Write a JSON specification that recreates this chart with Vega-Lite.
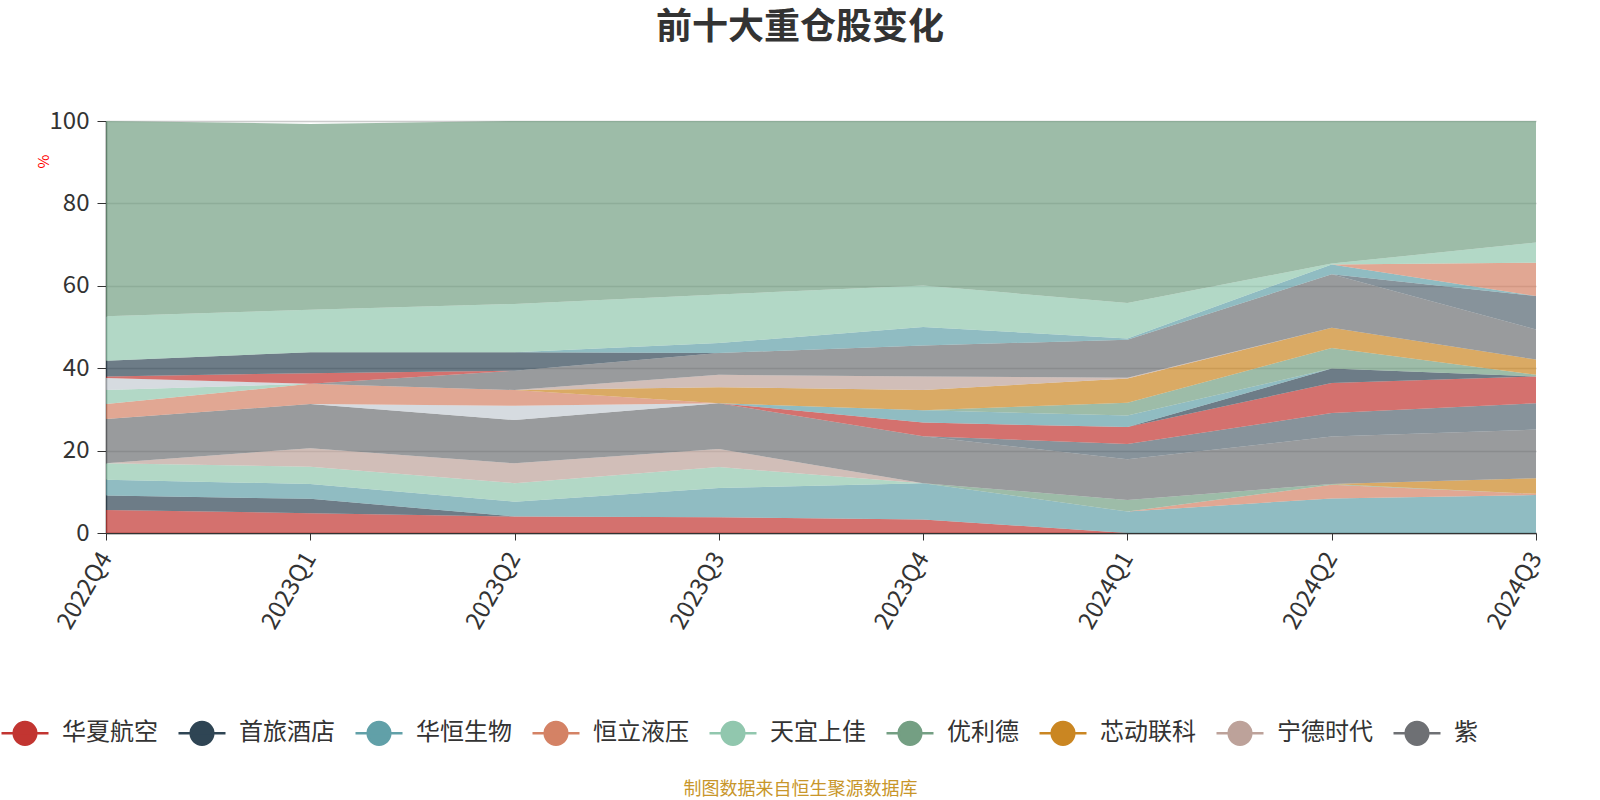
{
  "$schema": "https://vega.github.io/schema/vega-lite/v6.json",
  "width": 1430,
  "height": 412,
  "autosize": {"type": "none"},
  "padding": {"left": 106, "top": 121, "right": 64, "bottom": 267},
  "background": "white",
  "config": {"font": "Noto Sans CJK SC", "view": {"stroke": null}},
  "title": {"text": "前十大重仓股变化", "fontSize": 36, "fontWeight": "bold", "color": "#333333", "font": "Noto Sans CJK SC", "anchor": "middle", "dx": -21, "offset": 62},
  "data": {"values": [
    {"q":"2022Q4","s":"华夏航空","k":0,"v":5.6},{"q":"2023Q1","s":"华夏航空","k":0,"v":4.8},{"q":"2023Q2","s":"华夏航空","k":0,"v":4.0},{"q":"2023Q3","s":"华夏航空","k":0,"v":3.8},{"q":"2023Q4","s":"华夏航空","k":0,"v":3.3},{"q":"2024Q1","s":"华夏航空","k":0,"v":0},
    {"q":"2022Q4","s":"首旅酒店","k":1,"v":3.5},{"q":"2023Q1","s":"首旅酒店","k":1,"v":3.5},{"q":"2023Q2","s":"首旅酒店","k":1,"v":0},
    {"q":"2022Q4","s":"华恒生物","k":2,"v":3.8},{"q":"2023Q1","s":"华恒生物","k":2,"v":3.6},{"q":"2023Q2","s":"华恒生物","k":2,"v":3.6},{"q":"2023Q3","s":"华恒生物","k":2,"v":7.1},{"q":"2023Q4","s":"华恒生物","k":2,"v":8.8},{"q":"2024Q1","s":"华恒生物","k":2,"v":5.2},{"q":"2024Q2","s":"华恒生物","k":2,"v":8.4},{"q":"2024Q3","s":"华恒生物","k":2,"v":9.2},
    {"q":"2024Q1","s":"恒立液压","k":3,"v":0},{"q":"2024Q2","s":"恒立液压","k":3,"v":3.3},{"q":"2024Q3","s":"恒立液压","k":3,"v":0.3},
    {"q":"2022Q4","s":"天宜上佳","k":4,"v":4.0},{"q":"2023Q1","s":"天宜上佳","k":4,"v":4.2},{"q":"2023Q2","s":"天宜上佳","k":4,"v":4.5},{"q":"2023Q3","s":"天宜上佳","k":4,"v":5.1},{"q":"2023Q4","s":"天宜上佳","k":4,"v":0},
    {"q":"2023Q4","s":"优利德","k":5,"v":0},{"q":"2024Q1","s":"优利德","k":5,"v":2.8},{"q":"2024Q2","s":"优利德","k":5,"v":0.2},{"q":"2024Q3","s":"优利德","k":5,"v":0},
    {"q":"2024Q2","s":"芯动联科","k":6,"v":0},{"q":"2024Q3","s":"芯动联科","k":6,"v":3.8},
    {"q":"2022Q4","s":"宁德时代","k":7,"v":0},{"q":"2023Q1","s":"宁德时代","k":7,"v":4.5},{"q":"2023Q2","s":"宁德时代","k":7,"v":4.8},{"q":"2023Q3","s":"宁德时代","k":7,"v":4.4},{"q":"2023Q4","s":"宁德时代","k":7,"v":0},
    {"q":"2022Q4","s":"紫光国微","k":8,"v":10.8},{"q":"2023Q1","s":"紫光国微","k":8,"v":10.7},{"q":"2023Q2","s":"紫光国微","k":8,"v":10.5},{"q":"2023Q3","s":"紫光国微","k":8,"v":11.1},{"q":"2023Q4","s":"紫光国微","k":8,"v":11.4},{"q":"2024Q1","s":"紫光国微","k":8,"v":9.9},{"q":"2024Q2","s":"紫光国微","k":8,"v":11.5},{"q":"2024Q3","s":"紫光国微","k":8,"v":11.8},
    {"q":"2023Q4","s":"股票10","k":9,"v":0},{"q":"2024Q1","s":"股票10","k":9,"v":3.7},{"q":"2024Q2","s":"股票10","k":9,"v":5.7},{"q":"2024Q3","s":"股票10","k":9,"v":6.4},
    {"q":"2023Q1","s":"股票11","k":10,"v":0},{"q":"2023Q2","s":"股票11","k":10,"v":3.5},{"q":"2023Q3","s":"股票11","k":10,"v":0},
    {"q":"2023Q3","s":"股票12","k":11,"v":0},{"q":"2023Q4","s":"股票12","k":11,"v":3.3},{"q":"2024Q1","s":"股票12","k":11,"v":4.1},{"q":"2024Q2","s":"股票12","k":11,"v":7.3},{"q":"2024Q3","s":"股票12","k":11,"v":6.5},
    {"q":"2024Q1","s":"股票13","k":12,"v":0},{"q":"2024Q2","s":"股票13","k":12,"v":3.5},{"q":"2024Q3","s":"股票13","k":12,"v":0},
    {"q":"2023Q3","s":"股票14","k":13,"v":0},{"q":"2023Q4","s":"股票14","k":13,"v":3.0},{"q":"2024Q1","s":"股票14","k":13,"v":2.8},{"q":"2024Q2","s":"股票14","k":13,"v":0},
    {"q":"2022Q4","s":"股票15","k":14,"v":3.6},{"q":"2023Q1","s":"股票15","k":14,"v":4.9},{"q":"2023Q2","s":"股票15","k":14,"v":3.8},{"q":"2023Q3","s":"股票15","k":14,"v":0},
    {"q":"2022Q4","s":"股票16","k":15,"v":3.4},{"q":"2023Q1","s":"股票16","k":15,"v":0},
    {"q":"2023Q4","s":"股票17","k":16,"v":0},{"q":"2024Q1","s":"股票17","k":16,"v":3.1},{"q":"2024Q2","s":"股票17","k":16,"v":5.0},{"q":"2024Q3","s":"股票17","k":16,"v":0.4},
    {"q":"2023Q2","s":"股票18","k":17,"v":0},{"q":"2023Q3","s":"股票18","k":17,"v":3.9},{"q":"2023Q4","s":"股票18","k":17,"v":4.9},{"q":"2024Q1","s":"股票18","k":17,"v":5.9},{"q":"2024Q2","s":"股票18","k":17,"v":4.9},{"q":"2024Q3","s":"股票18","k":17,"v":3.7},
    {"q":"2023Q2","s":"股票19","k":18,"v":0},{"q":"2023Q3","s":"股票19","k":18,"v":3.0},{"q":"2023Q4","s":"股票19","k":18,"v":3.3},{"q":"2024Q1","s":"股票19","k":18,"v":0.2},{"q":"2024Q2","s":"股票19","k":18,"v":0},
    {"q":"2023Q1","s":"股票20","k":19,"v":0},{"q":"2023Q2","s":"股票20","k":19,"v":4.7},{"q":"2023Q3","s":"股票20","k":19,"v":5.3},{"q":"2023Q4","s":"股票20","k":19,"v":7.5},{"q":"2024Q1","s":"股票20","k":19,"v":9.2},{"q":"2024Q2","s":"股票20","k":19,"v":13.0},{"q":"2024Q3","s":"股票20","k":19,"v":7.3},
    {"q":"2024Q2","s":"股票21","k":20,"v":0},{"q":"2024Q3","s":"股票21","k":20,"v":8.1},
    {"q":"2022Q4","s":"股票22","k":21,"v":2.9},{"q":"2023Q1","s":"股票22","k":21,"v":0},
    {"q":"2022Q4","s":"股票23","k":22,"v":0.4},{"q":"2023Q1","s":"股票23","k":22,"v":2.6},{"q":"2023Q2","s":"股票23","k":22,"v":0},
    {"q":"2022Q4","s":"股票24","k":23,"v":3.8},{"q":"2023Q1","s":"股票24","k":23,"v":5.1},{"q":"2023Q2","s":"股票24","k":23,"v":4.5},{"q":"2023Q3","s":"股票24","k":23,"v":0},
    {"q":"2023Q2","s":"股票25","k":24,"v":0},{"q":"2023Q3","s":"股票25","k":24,"v":2.4},{"q":"2023Q4","s":"股票25","k":24,"v":4.5},{"q":"2024Q1","s":"股票25","k":24,"v":0.3},{"q":"2024Q2","s":"股票25","k":24,"v":2.4},{"q":"2024Q3","s":"股票25","k":24,"v":0},
    {"q":"2024Q2","s":"股票26","k":25,"v":0},{"q":"2024Q3","s":"股票26","k":25,"v":8.1},
    {"q":"2022Q4","s":"股票27","k":26,"v":10.8},{"q":"2023Q1","s":"股票27","k":26,"v":10.3},{"q":"2023Q2","s":"股票27","k":26,"v":11.7},{"q":"2023Q3","s":"股票27","k":26,"v":11.8},{"q":"2023Q4","s":"股票27","k":26,"v":10.1},{"q":"2024Q1","s":"股票27","k":26,"v":8.6},{"q":"2024Q2","s":"股票27","k":26,"v":0.2},{"q":"2024Q3","s":"股票27","k":26,"v":4.9},
    {"q":"2022Q4","s":"股票28","k":27,"v":47.4},{"q":"2023Q1","s":"股票28","k":27,"v":45.1},{"q":"2023Q2","s":"股票28","k":27,"v":44.4},{"q":"2023Q3","s":"股票28","k":27,"v":42.1},{"q":"2023Q4","s":"股票28","k":27,"v":39.9},{"q":"2024Q1","s":"股票28","k":27,"v":44.2},{"q":"2024Q2","s":"股票28","k":27,"v":34.6},{"q":"2024Q3","s":"股票28","k":27,"v":29.5}
  ]},
  "mark": {"type": "area", "opacity": 0.7, "interpolate": "linear"},
  "encoding": {
    "x": {
      "field": "q", "type": "ordinal",
      "scale": {"type": "point", "padding": 0},
      "axis": {
        "title": "制图数据来自恒生聚源数据库", "titleColor": "#c8962a", "titleFontSize": 18, "titleFontWeight": "normal",
        "titleX": 694, "titleY": 256, "titleAlign": "center", "titleBaseline": "middle", "titleAngle": 0,
        "labelAngle": -60, "labelAlign": "right", "labelBaseline": "middle", "labelFontSize": 24, "labelColor": "#333333",
        "labelPadding": 14, "tickSize": 7, "tickColor": "#333333", "domainColor": "#333333", "domainWidth": 1.5, "grid": false
      }
    },
    "y": {
      "field": "v", "type": "quantitative", "stack": "zero",
      "scale": {"domain": [0, 100], "nice": false},
      "axis": {
        "title": "%", "titleColor": "red", "titleFontSize": 15, "titleFontWeight": "normal",
        "titleX": -63, "titleY": 40, "titleAngle": -90, "titleAlign": "center", "titleBaseline": "middle",
        "values": [0, 20, 40, 60, 80, 100], "labelFontSize": 24, "labelColor": "#333333", "labelPadding": 8,
        "tickSize": 9, "tickColor": "#333333", "domainColor": "#333333", "domainWidth": 1.5,
        "grid": true, "gridColor": "#cccccc", "gridWidth": 1.5
      }
    },
    "color": {
      "field": "s", "type": "nominal",
      "scale": {
        "domain": ["华夏航空","首旅酒店","华恒生物","恒立液压","天宜上佳","优利德","芯动联科","宁德时代","紫光国微","股票10","股票11","股票12","股票13","股票14","股票15","股票16","股票17","股票18","股票19","股票20","股票21","股票22","股票23","股票24","股票25","股票26","股票27","股票28"],
        "range": ["#c23531","#2f4554","#61a0a8","#d48265","#91c7ae","#749f83","#ca8622","#bda29a","#6e7074","#546570","#c4ccd3","#c23531","#2f4554","#61a0a8","#d48265","#91c7ae","#749f83","#ca8622","#bda29a","#6e7074","#546570","#c4ccd3","#c23531","#2f4554","#61a0a8","#d48265","#91c7ae","#749f83"]
      },
      "legend": {
        "values": ["华夏航空","首旅酒店","华恒生物","恒立液压","天宜上佳","优利德","芯动联科","宁德时代","紫光国微"],
        "orient": "none", "legendX": -106, "legendY": 587, "direction": "horizontal", "title": null,
        "symbolType": "M-1,0L1,0M0.48,0A0.48,0.48,0,1,1,-0.48,0A0.48,0.48,0,1,1,0.48,0Z",
        "symbolSize": 2209, "symbolOpacity": 1, "symbolStrokeWidth": 2.5,
        "labelFontSize": 24, "labelColor": "#333333", "labelOffset": 12, "columnPadding": 15,
        "labelExpr": "datum.label == '紫光国微' ? '紫' : datum.label",
        "encode": {"symbols": {"update": {"stroke": {"scale": "color", "field": "value"}, "fillOpacity": {"value": 1}, "strokeOpacity": {"value": 1}}}}
      }
    },
    "order": {"field": "k", "type": "quantitative", "sort": "ascending"}
  }
}
